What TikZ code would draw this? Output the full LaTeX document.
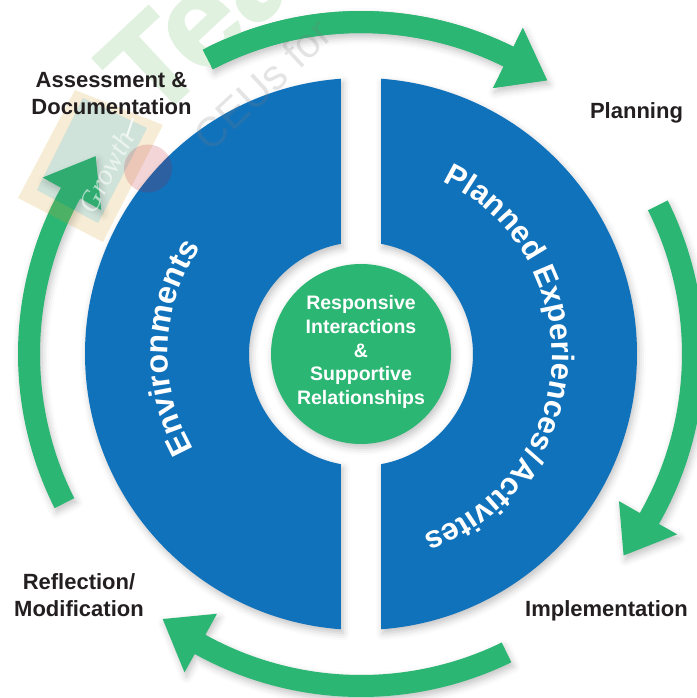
\documentclass[tikz,border=0pt]{standalone}
\usepackage{fontspec}
\setmainfont{Liberation Sans}
\newfontfamily\chalkface{Liberation Serif}
\newfontface\markface[FakeBold=1.6]{Liberation Sans Bold}
\usetikzlibrary{decorations.text,shadows.blur}
\definecolor{cyclegreen}{RGB}{43,182,115}
\definecolor{bandblue}{RGB}{17,114,188}
\definecolor{ink}{RGB}{35,31,32}
\definecolor{palegreen}{RGB}{224,241,223}
\begin{document}
\begin{tikzpicture}[x=1pt,y=1pt]
    \tikzset{
      softshadow/.style={blur shadow={shadow xshift=2pt,shadow yshift=-4pt,shadow blur radius=7pt,shadow opacity=24}},
      halfdisc/.style={fill=bandblue,softshadow},
      cyclearrow/.style={fill=cyclegreen,softshadow},
      stagelabel/.style={text=ink,font=\fontsize{22}{27}\selectfont\bfseries,align=center,anchor=base},
      corecircle/.style={circle,fill=cyclegreen,softshadow,minimum size=180pt,inner sep=0pt,text depth=8pt,
        text=white,font=\fontsize{19.5}{23.7}\selectfont\bfseries,align=center},
    }
    \useasboundingbox (-361,-344) rectangle (335,354);
    \def\bandfont{\fontsize{31}{31}\selectfont\bfseries\color{white}}
    \def\Bend(#1,#2,#3){(#1:343) arc [start angle=#1,end angle=#2,radius=343] -- (#2:364) -- (#3:331)
      -- (#2:297) -- (#2:321) arc [start angle=#2,end angle=#1,radius=321] -- cycle}

    % Half discs.
    \fill [halfdisc] (85.84:276) arc [start angle=85.84,end angle=-85.84,radius=276]
      -- (-79.7:112) arc [start angle=-79.7,end angle=79.7,radius=112] -- cycle;
    \fill [halfdisc] (94.16:276) arc [start angle=94.16,end angle=265.84,radius=276]
      -- (259.7:112) arc [start angle=259.7,end angle=100.3,radius=112] -- cycle;

    % Cycle arrows.
    \fill [cyclearrow] \Bend(117.5,63.6,55.8);
    \fill [cyclearrow] \Bend(26.6,-29.7,-37.5);
    \fill [cyclearrow] \Bend(-64,-119,-126.8);
    \fill [cyclearrow] \Bend(206.7,151,143.3);

    % Watermark word, between the top arrow's shadow and the arrow.
    \node [rotate=43,anchor=base west,text=palegreen,font=\fontsize{130}{130}\selectfont\markface] (markword) at (-211,227) {T\kern-14pt ea};
    \fill [cyclegreen] \Bend(117.5,63.6,55.8);

    % Centre.
    \node [corecircle] (core) at (0,0) {Responsive\\Interactions\\\&\\Supportive\\Relationships};

    % Curved titles.
    \path [decorate,decoration={text along path,text align=center,text={|\fontsize{32}{32}\selectfont\bfseries\color{white}|Environments}}]
      (209:193) arc [start angle=209,end angle=147,radius=193];
    \path [decorate,decoration={text along path,text align=center,text={|\bandfont|Planned Experiences{\kern1.5pt/\kern1.5pt}Activites}}]
      (64.7:191) arc [start angle=64.7,end angle=-71,radius=191];

    % Watermark.
    \node [rotate=43,anchor=base west,text=ink!60,opacity=.2,font=\fontsize{42}{42}\selectfont] (markline) at (-153,198) {CEUs for};
    \fill [even odd rule,fill={rgb,255:red,215;green,160;blue,45},opacity=.2]
      (-286,264) -- (-198,229) -- (-258,112) -- (-343,156) -- cycle
      (-278,256) -- (-214,226) -- (-263,131) -- (-324,164) -- cycle;
    \fill [fill={rgb,255:red,63;green,143;blue,107},opacity=.25] (-278,256) -- (-214,226) -- (-263,131) -- (-324,164) -- cycle;
    \node [rotate=62,text=white,opacity=.6,font=\fontsize{29}{29}\selectfont\chalkface\itshape] (markscript) at (-255,182) {Growth};
    \draw [white,line width=2pt,opacity=.8] (-228,236) -- (-234,218);
    \fill [fill={rgb,255:red,184;green,8;blue,26},opacity=.17] (-213,185.5) circle [radius=24];

    % Stage labels.
    \node [stagelabel] (assess)  at (-249.5,239) {Assessment \&\\Documentation};
    \node [stagelabel] (plan)    at (275.5,235)  {Planning};
    \node [stagelabel] (impl)    at (245.5,-262) {Implementation};
    \node [stagelabel] (reflect) at (-282,-262)  {Reflection/\\Modification};
\end{tikzpicture}
\end{document}
